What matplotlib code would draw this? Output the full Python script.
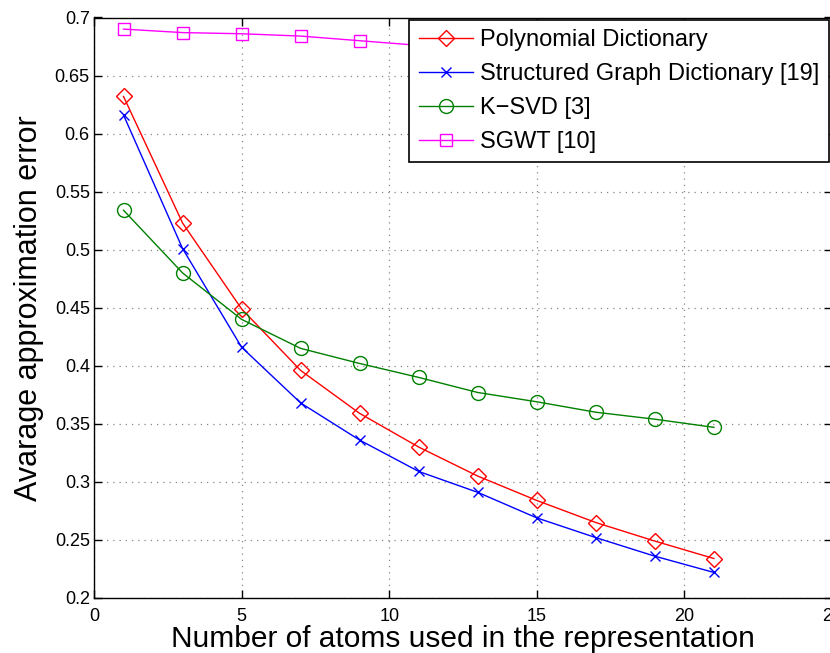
import matplotlib.pyplot as plt
import numpy as np

plt.rcParams['font.family'] = ['Liberation Sans', 'DejaVu Sans']

# Number of atoms
atoms = [1, 3, 5, 7, 9, 11, 13, 15, 17, 19, 21]

poly_dict = [0.632, 0.523, 0.449, 0.396, 0.359, 0.330, 0.305, 0.284, 0.265, 0.249, 0.234]
struct_graph = [0.616, 0.501, 0.416, 0.368, 0.336, 0.309, 0.291, 0.269, 0.252, 0.236, 0.222]
ksvd = [0.534, 0.480, 0.440, 0.415, 0.402, 0.390, 0.377, 0.369, 0.360, 0.354, 0.347]
# values from 11 on sit behind the legend, rough estimates
sgwt = [0.690, 0.687, 0.686, 0.684, 0.680, 0.676, 0.672, 0.668, 0.664, 0.660, 0.656]

labels = ['Polynomial Dictionary', 'Structured Graph Dictionary [19]',
          'K\u2212SVD [3]', 'SGWT [10]']

fig = plt.figure(figsize=(8.3, 6.53), dpi=100)
ax = fig.add_axes([94/830, 1 - 598/653, (832 - 94)/830, (598 - 17.5)/653])

ax.plot(atoms, poly_dict, color='red', lw=1, marker='D', ms=8.5,
        mfc='none', mew=1, label=labels[0])
ax.plot(atoms, struct_graph, color='blue', lw=1, marker='x', ms=7.5,
        mew=1, label=labels[1])
ax.plot(atoms, ksvd, color='green', lw=1, marker='o', ms=10,
        mfc='none', mew=1, label=labels[2])
ax.plot(atoms, sgwt, color='magenta', lw=1, marker='s', ms=8,
        mfc='none', mew=1, label=labels[3])

ax.set_xlim(0, 25)
ax.set_ylim(0.2, 0.7)
ax.set_xticks(np.arange(0, 26, 5))
ax.set_yticks(np.arange(0.2, 0.701, 0.05))
ax.set_yticklabels(['0.2', '0.25', '0.3', '0.35', '0.4', '0.45', '0.5',
                    '0.55', '0.6', '0.65', '0.7'])
ax.tick_params(direction='in', top=True, right=True, length=6, width=1,
               labelsize=13, colors='black')
ax.tick_params(axis='x', pad=7)
ax.tick_params(axis='y', pad=3)
ax.grid(True, linestyle=(0, (1, 4)), color='#888888', lw=0.9)
for s in ax.spines.values():
    s.set_linewidth(1)

ax.set_xlabel('Number of atoms used in the representation', fontsize=21.5, labelpad=0)
ax.set_ylabel('Avarage approximation error', fontsize=22, labelpad=8)

leg = ax.legend(loc='upper right', bbox_to_anchor=(829/830, 1 - 20/653),
                bbox_transform=fig.transFigure, borderaxespad=0,
                fontsize=17, fancybox=False, framealpha=1, edgecolor='black',
                handlelength=2.3, handletextpad=0.3, labelspacing=0.5,
                borderpad=0.4)
leg.get_frame().set_linewidth(1.2)

fig.savefig('out.png', dpi=100)
